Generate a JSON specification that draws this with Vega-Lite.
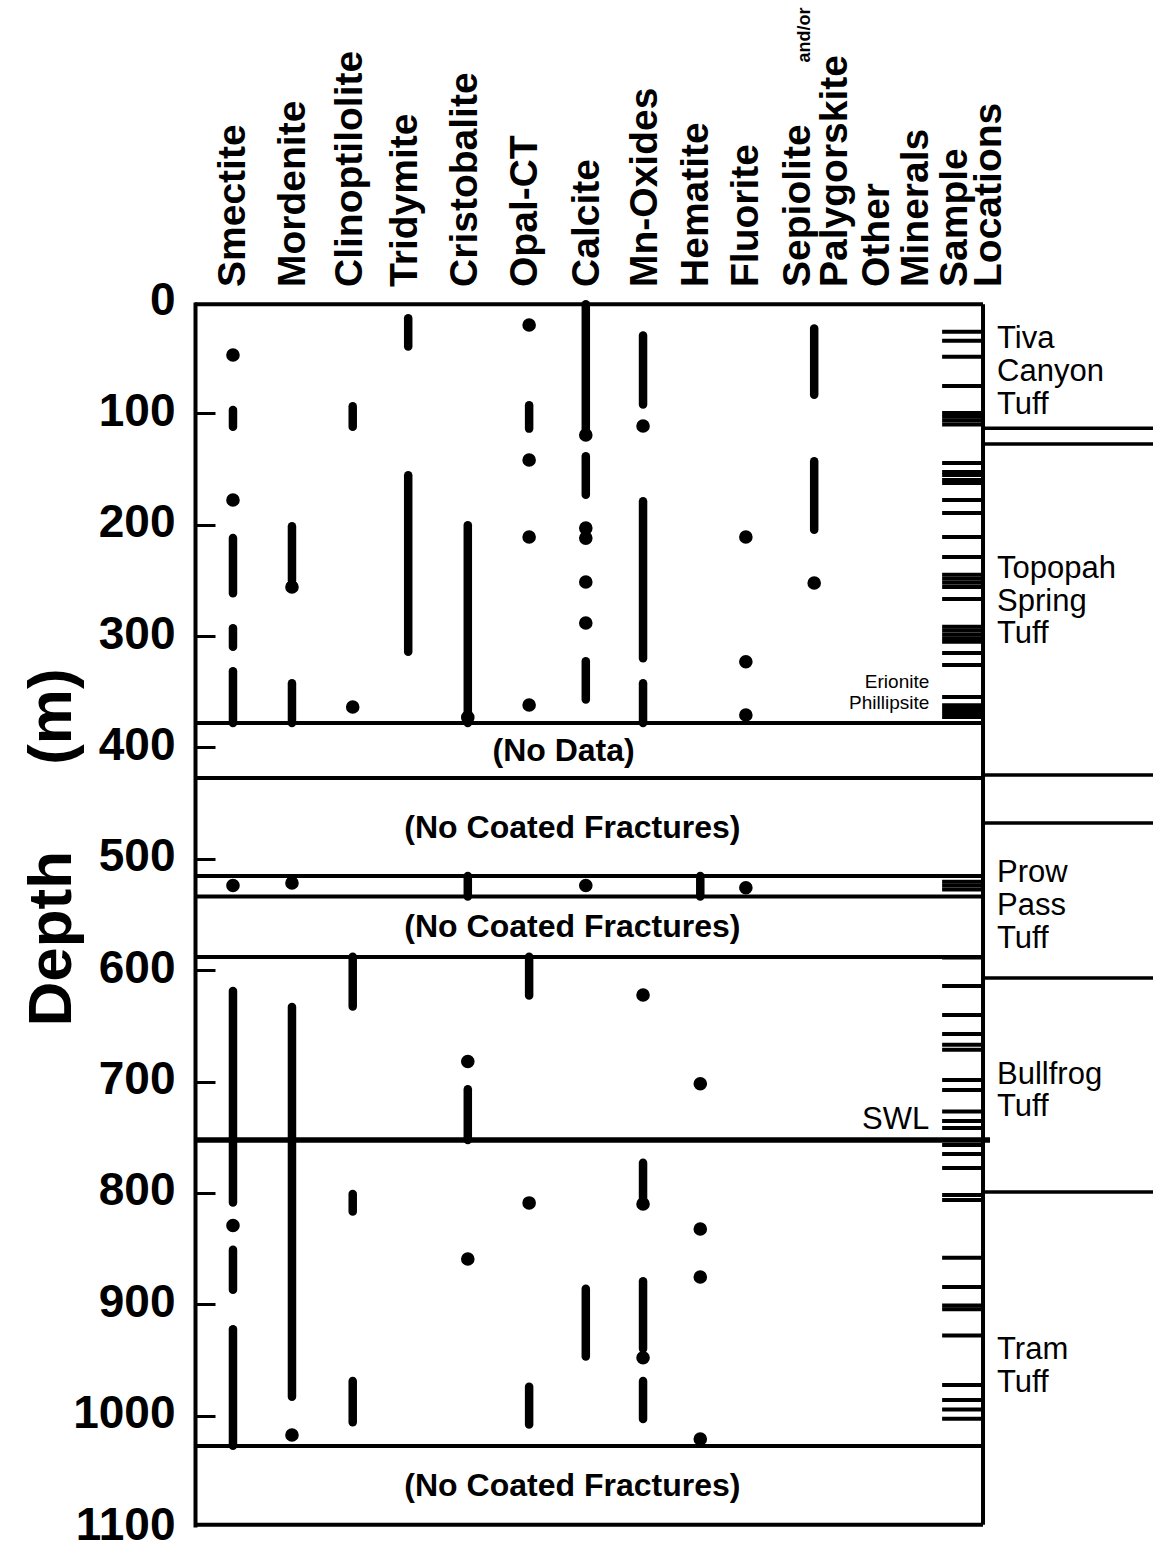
{
  "$schema": "https://vega.github.io/schema/vega-lite/v6.json",
  "width": 958,
  "height": 1225,
  "autosize": {"type": "none"},
  "padding": {"left": 195, "top": 302, "right": 0, "bottom": 15},
  "background": "white",
  "config": {"view": {"stroke": null}, "font": "Liberation Sans"},
  "resolve": {"axis": {"x": "independent", "y": "independent"}},
  "datasets": {
    "seg": [
      {"m": "Smectite", "pos": 1.0, "d": 97, "d2": 112},
      {"m": "Smectite", "pos": 1.0, "d": 212, "d2": 261.5},
      {"m": "Smectite", "pos": 1.0, "d": 293, "d2": 309.5},
      {"m": "Smectite", "pos": 1.0, "d": 331.5, "d2": 378},
      {"m": "Smectite", "pos": 1.0, "d": 618.7, "d2": 808.7},
      {"m": "Smectite", "pos": 1.0, "d": 851, "d2": 887},
      {"m": "Smectite", "pos": 1.0, "d": 922.5, "d2": 1027},
      {"m": "Mordenite", "pos": 2.01, "d": 201.4, "d2": 250},
      {"m": "Mordenite", "pos": 2.01, "d": 342.4, "d2": 378},
      {"m": "Mordenite", "pos": 2.01, "d": 633, "d2": 983},
      {"m": "Clinoptilolite", "pos": 3.05, "d": 93.7, "d2": 112},
      {"m": "Clinoptilolite", "pos": 3.05, "d": 588, "d2": 632.7},
      {"m": "Clinoptilolite", "pos": 3.05, "d": 801, "d2": 816.8},
      {"m": "Clinoptilolite", "pos": 3.05, "d": 969, "d2": 1006},
      {"m": "Tridymite", "pos": 4.0, "d": 14.7, "d2": 40},
      {"m": "Tridymite", "pos": 4.0, "d": 155.6, "d2": 314},
      {"m": "Cristobalite", "pos": 5.02, "d": 200.5, "d2": 378},
      {"m": "Cristobalite", "pos": 5.02, "d": 515.4, "d2": 533.8},
      {"m": "Cristobalite", "pos": 5.02, "d": 707, "d2": 752.4},
      {"m": "Opal-CT", "pos": 6.07, "d": 92.8, "d2": 113.7},
      {"m": "Opal-CT", "pos": 6.07, "d": 588, "d2": 622.8},
      {"m": "Opal-CT", "pos": 6.07, "d": 974, "d2": 1008},
      {"m": "Calcite", "pos": 7.04, "d": 2, "d2": 116},
      {"m": "Calcite", "pos": 7.04, "d": 138.6, "d2": 173},
      {"m": "Calcite", "pos": 7.04, "d": 322.7, "d2": 357},
      {"m": "Calcite", "pos": 7.04, "d": 886, "d2": 947},
      {"m": "Mn-Oxides", "pos": 8.02, "d": 30, "d2": 92},
      {"m": "Mn-Oxides", "pos": 8.02, "d": 179, "d2": 320},
      {"m": "Mn-Oxides", "pos": 8.02, "d": 342.4, "d2": 378},
      {"m": "Mn-Oxides", "pos": 8.02, "d": 773, "d2": 805},
      {"m": "Mn-Oxides", "pos": 8.02, "d": 879.4, "d2": 940},
      {"m": "Mn-Oxides", "pos": 8.02, "d": 969, "d2": 1003},
      {"m": "Hematite", "pos": 9.0, "d": 515.4, "d2": 533.8},
      {"m": "Sepiolite", "pos": 10.95, "d": 23.7, "d2": 83.2},
      {"m": "Sepiolite", "pos": 10.95, "d": 143, "d2": 204.4}
    ],
    "dot": [
      {"m": "Smectite", "pos": 1.0, "d": 47.6},
      {"m": "Smectite", "pos": 1.0, "d": 177.8},
      {"m": "Smectite", "pos": 1.0, "d": 524},
      {"m": "Smectite", "pos": 1.0, "d": 829.3},
      {"m": "Mordenite", "pos": 2.01, "d": 255.9},
      {"m": "Mordenite", "pos": 2.01, "d": 521.7},
      {"m": "Mordenite", "pos": 2.01, "d": 1017.4},
      {"m": "Clinoptilolite", "pos": 3.05, "d": 363.7},
      {"m": "Cristobalite", "pos": 5.02, "d": 373},
      {"m": "Cristobalite", "pos": 5.02, "d": 682},
      {"m": "Cristobalite", "pos": 5.02, "d": 859.3},
      {"m": "Opal-CT", "pos": 6.07, "d": 20.7},
      {"m": "Opal-CT", "pos": 6.07, "d": 141.9},
      {"m": "Opal-CT", "pos": 6.07, "d": 211},
      {"m": "Opal-CT", "pos": 6.07, "d": 361.9},
      {"m": "Opal-CT", "pos": 6.07, "d": 809},
      {"m": "Calcite", "pos": 7.04, "d": 119.4},
      {"m": "Calcite", "pos": 7.04, "d": 203},
      {"m": "Calcite", "pos": 7.04, "d": 212},
      {"m": "Calcite", "pos": 7.04, "d": 251.4},
      {"m": "Calcite", "pos": 7.04, "d": 288.2},
      {"m": "Calcite", "pos": 7.04, "d": 524},
      {"m": "Mn-Oxides", "pos": 8.02, "d": 111.3},
      {"m": "Mn-Oxides", "pos": 8.02, "d": 622.3},
      {"m": "Mn-Oxides", "pos": 8.02, "d": 810},
      {"m": "Mn-Oxides", "pos": 8.02, "d": 948},
      {"m": "Hematite", "pos": 9.0, "d": 702},
      {"m": "Hematite", "pos": 9.0, "d": 832.4},
      {"m": "Hematite", "pos": 9.0, "d": 875.5},
      {"m": "Hematite", "pos": 9.0, "d": 1021},
      {"m": "Fluorite", "pos": 9.78, "d": 211},
      {"m": "Fluorite", "pos": 9.78, "d": 323},
      {"m": "Fluorite", "pos": 9.78, "d": 370.8},
      {"m": "Fluorite", "pos": 9.78, "d": 526},
      {"m": "Sepiolite", "pos": 10.95, "d": 252.3}
    ],
    "samples": [
      {"d": 26.7}, {"d": 34.7}, {"d": 49.1}, {"d": 75.4}, {"d": 99.7}, {"d": 103}, {"d": 106.5}, {"d": 110},
      {"d": 144.6}, {"d": 152.6}, {"d": 155.3}, {"d": 159.8}, {"d": 162.5}, {"d": 177.8}, {"d": 189.5}, {"d": 211}, {"d": 229},
      {"d": 245}, {"d": 248.5}, {"d": 252}, {"d": 255.9}, {"d": 266.6}, {"d": 291.5}, {"d": 295}, {"d": 298.5}, {"d": 302}, {"d": 305},
      {"d": 315.2}, {"d": 326}, {"d": 354.7}, {"d": 362}, {"d": 365.5}, {"d": 369}, {"d": 372.6},
      {"d": 520.5}, {"d": 524}, {"d": 527.5},
      {"d": 588.5}, {"d": 614.2}, {"d": 640.2}, {"d": 657.3}, {"d": 667}, {"d": 671.5}, {"d": 698.6}, {"d": 707.6}, {"d": 727}, {"d": 735.4}, {"d": 741.7},
      {"d": 756.9}, {"d": 765}, {"d": 777.6}, {"d": 801.8}, {"d": 806.3}, {"d": 858.2}, {"d": 884.4}, {"d": 901}, {"d": 904.5}, {"d": 928},
      {"d": 972.4}, {"d": 985.9}, {"d": 994.4}, {"d": 1002.7}
    ],
    "sections": [
      {"d": 2}, {"d": 378}, {"d": 427.4}, {"d": 515.4}, {"d": 533.8}, {"d": 588.1}, {"d": 1027.2}, {"d": 1098}
    ],
    "unitlines": [
      {"d": 113.4}, {"d": 127.5}, {"d": 424.7}, {"d": 467.8}, {"d": 607}, {"d": 799.2}
    ],
    "headers": [
      {"t": "Smectite", "pos": 1.206},
      {"t": "Mordenite", "pos": 2.233},
      {"t": "Clinoptilolite", "pos": 3.209},
      {"t": "Tridymite", "pos": 4.15},
      {"t": "Cristobalite", "pos": 5.178},
      {"t": "Opal-CT", "pos": 6.205},
      {"t": "Calcite", "pos": 7.267},
      {"t": "Mn-Oxides", "pos": 8.26},
      {"t": "Hematite", "pos": 9.133},
      {"t": "Fluorite", "pos": 9.989},
      {"t": "Sepiolite", "pos": 10.879},
      {"t": "Palygorskite", "pos": 11.513},
      {"t": "Other", "pos": 12.232},
      {"t": "Minerals", "pos": 12.899},
      {"t": "Sample", "pos": 13.567},
      {"t": "Locations", "pos": 14.149}
    ],
    "notes": [
      {"t": "(No Data)", "pos": 6.66, "d": 403},
      {"t": "(No Coated Fractures)", "pos": 6.81, "d": 472},
      {"t": "(No Coated Fractures)", "pos": 6.81, "d": 561},
      {"t": "(No Coated Fractures)", "pos": 6.81, "d": 1063}
    ],
    "units": [
      {"t": "Tiva", "d": 41.3}, {"t": "Canyon", "d": 70.9}, {"t": "Tuff", "d": 100.6},
      {"t": "Topopah", "d": 247.8}, {"t": "Spring", "d": 277.5}, {"t": "Tuff", "d": 306.2},
      {"t": "Prow", "d": 520.8}, {"t": "Pass", "d": 550.4}, {"t": "Tuff", "d": 580},
      {"t": "Bullfrog", "d": 702}, {"t": "Tuff", "d": 731},
      {"t": "Tram", "d": 949}, {"t": "Tuff", "d": 978.7}
    ],
    "small": [
      {"t": "Erionite", "d": 346.3},
      {"t": "Phillipsite", "d": 365.8}
    ]
  },
  "layer": [
    {
      "data": {"name": "seg"},
      "mark": {"type": "rule", "strokeWidth": 8.5, "strokeCap": "round", "color": "black"},
      "encoding": {
        "x": {"field": "pos", "type": "quantitative", "scale": {"domain": [0.35, 16.75], "nice": false, "zero": false}, "axis": null},
        "y": {
          "field": "d", "type": "quantitative",
          "scale": {"domain": [0, 1100], "reverse": true, "nice": false, "zero": false},
          "axis": {
            "orient": "left",
            "values": [0, 100, 200, 300, 400, 500, 600, 700, 800, 900, 1000, 1100],
            "format": "d",
            "grid": false,
            "domain": true,
            "domainColor": "black", "domainWidth": 4,
            "ticks": false,
            "labels": true,
            "labelFont": "Liberation Sans", "labelFontWeight": "bold", "labelFontSize": 46, "labelColor": "black",
            "labelPadding": 20, "labelOffset": -2, "labelOverlap": false, "labelFlush": false,
            "title": "Depth\u00a0\u00a0\u00a0\u00a0\u00a0(m)",
            "titleFont": "Liberation Sans", "titleFontWeight": "bold", "titleFontSize": 62, "titleColor": "black",
            "titleAngle": 270, "titleAlign": "center", "titleBaseline": "alphabetic",
            "titleX": -125, "titleY": 545
          }
        },
        "y2": {"field": "d2"}
      }
    },
    {
      "data": {"name": "dot"},
      "mark": {"type": "circle", "size": 185, "color": "black", "opacity": 1},
      "encoding": {
        "x": {"field": "pos", "type": "quantitative", "axis": null},
        "y": {
          "field": "d", "type": "quantitative",
          "axis": {
            "orient": "left",
            "values": [100, 200, 300, 400, 500, 600, 700, 800, 900, 1000],
            "offset": -20,
            "grid": false,
            "domain": false,
            "labels": false,
            "ticks": true,
            "tickColor": "black", "tickWidth": 3, "tickSize": 20,
            "title": null
          }
        }
      }
    },
    {
      "data": {"name": "sections"},
      "mark": {"type": "rule", "strokeWidth": 4, "color": "black"},
      "encoding": {
        "x": {"datum": 0.35, "type": "quantitative", "axis": null},
        "x2": {"datum": 13.84},
        "y": {"field": "d", "type": "quantitative", "axis": null}
      }
    },
    {
      "data": {"values": [{"d": 752.4}]},
      "mark": {"type": "rule", "strokeWidth": 5.5, "color": "black"},
      "encoding": {
        "x": {"datum": 0.35, "type": "quantitative", "axis": null},
        "x2": {"datum": 13.96},
        "y": {"field": "d", "type": "quantitative", "axis": null}
      }
    },
    {
      "data": {"values": [{}]},
      "mark": {"type": "rule", "strokeWidth": 4, "color": "black"},
      "encoding": {
        "x": {"datum": 13.84, "type": "quantitative", "axis": null},
        "y": {"datum": 2, "type": "quantitative", "axis": null},
        "y2": {"datum": 1098}
      }
    },
    {
      "data": {"name": "unitlines"},
      "mark": {"type": "rule", "strokeWidth": 3.5, "color": "black"},
      "encoding": {
        "x": {"datum": 13.84, "type": "quantitative", "axis": null},
        "x2": {"datum": 16.75},
        "y": {"field": "d", "type": "quantitative", "axis": null}
      }
    },
    {
      "data": {"name": "samples"},
      "mark": {"type": "rule", "strokeWidth": 4, "color": "black"},
      "encoding": {
        "x": {"datum": 13.14, "type": "quantitative", "axis": null},
        "x2": {"datum": 13.84},
        "y": {"field": "d", "type": "quantitative", "axis": null}
      }
    },
    {
      "data": {"name": "headers"},
      "mark": {"type": "text", "angle": 270, "align": "left", "baseline": "alphabetic", "font": "Liberation Sans", "fontWeight": "bold", "fontSize": 39, "color": "black"},
      "encoding": {
        "x": {"field": "pos", "type": "quantitative", "axis": null},
        "y": {"datum": -13.5, "type": "quantitative", "axis": null},
        "text": {"field": "t"}
      }
    },
    {
      "data": {"values": [{"t": "and/or", "pos": 10.879}]},
      "mark": {"type": "text", "angle": 270, "align": "left", "baseline": "alphabetic", "font": "Liberation Sans", "fontWeight": "bold", "fontSize": 18, "color": "black"},
      "encoding": {
        "x": {"field": "pos", "type": "quantitative", "axis": null},
        "y": {"datum": -215, "type": "quantitative", "axis": null},
        "text": {"field": "t"}
      }
    },
    {
      "data": {"name": "notes"},
      "mark": {"type": "text", "align": "center", "baseline": "middle", "font": "Liberation Sans", "fontWeight": "bold", "fontSize": 32, "color": "black"},
      "encoding": {
        "x": {"field": "pos", "type": "quantitative", "axis": null},
        "y": {"field": "d", "type": "quantitative", "axis": null},
        "text": {"field": "t"}
      }
    },
    {
      "data": {"name": "units"},
      "mark": {"type": "text", "align": "left", "baseline": "alphabetic", "font": "Liberation Sans", "fontSize": 31, "color": "black"},
      "encoding": {
        "x": {"datum": 14.08, "type": "quantitative", "axis": null},
        "y": {"field": "d", "type": "quantitative", "axis": null},
        "text": {"field": "t"}
      }
    },
    {
      "data": {"name": "small"},
      "mark": {"type": "text", "align": "right", "baseline": "alphabetic", "font": "Liberation Sans", "fontSize": 19, "color": "black"},
      "encoding": {
        "x": {"datum": 12.92, "type": "quantitative", "axis": null},
        "y": {"field": "d", "type": "quantitative", "axis": null},
        "text": {"field": "t"}
      }
    },
    {
      "data": {"values": [{"t": "SWL", "d": 742.5}]},
      "mark": {"type": "text", "align": "right", "baseline": "alphabetic", "font": "Liberation Sans", "fontSize": 31, "color": "black"},
      "encoding": {
        "x": {"datum": 12.92, "type": "quantitative", "axis": null},
        "y": {"field": "d", "type": "quantitative", "axis": null},
        "text": {"field": "t"}
      }
    }
  ]
}
